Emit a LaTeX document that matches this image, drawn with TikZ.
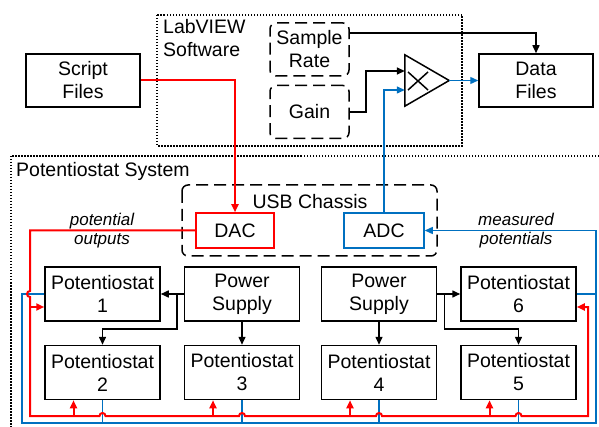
\documentclass[tikz,border=0pt]{standalone}
\usepackage{fontspec}
\setmainfont{Liberation Sans}
\usetikzlibrary{arrows.meta,positioning,calc}
\definecolor{dacred}{RGB}{255,0,0}
\definecolor{adcblue}{RGB}{0,112,192}

\begin{document}
\begin{tikzpicture}[x=1pt,y=-1pt,node distance=23pt,>={Triangle[length=8pt,width=7pt]},
  every node/.style={font=\fontsize{19.5}{23}\selectfont}]
\tikzstyle{box}=[draw, line width=1.5pt, align=center, minimum width=115pt, minimum height=54pt, inner sep=2pt]
\tikzstyle{setting}=[draw, line width=1.5pt, dash pattern=on 12pt off 6pt, rounded corners=6pt, align=center, minimum width=79pt, minimum height=53pt, inner sep=2pt]
\tikzstyle{conv}=[draw, line width=1.5pt, minimum width=78pt, minimum height=35pt]
\tikzstyle{frame}=[line width=1.5pt, dash pattern=on 1.5pt off 1.5pt]
\tikzstyle{wire}=[line width=1.5pt]
\tikzstyle{redwire}=[dacred, line width=2pt]
\tikzstyle{bluewire}=[adcblue, line width=1.3pt]
\tikzstyle{note}=[font=\fontsize{17}{19}\selectfont\itshape, align=center]

\path[use as bounding box, clip] (0,0) rectangle (599,427);

% LabVIEW software
\draw[frame] (157,15) rectangle (462,146);
\node[anchor=north west, align=left, inner sep=0pt] (lv) at (163,19) {LabVIEW\\Software};
\node[box, minimum width=114pt, minimum height=53pt] (script) at (83,80.5) {Script\\Files};
\node[setting] (rate) at (309.5,49.5) {Sample\\Rate};
\node[setting, below=8pt of rate] (gain) {Gain};
\node[minimum width=44pt, minimum height=51pt, inner sep=0pt] (mul) at (427,80.5) {};
\draw[wire] (mul.north west) -- (mul.east) -- (mul.south west) -- cycle;
\draw[wire] ([shift={(-19pt,8.5pt)}]mul.center) -- ([shift={(1pt,-9.5pt)}]mul.center);
\draw[wire] ([shift={(1pt,8.5pt)}]mul.center) -- ([shift={(-19pt,-9.5pt)}]mul.center);
\node[box, minimum width=114pt, minimum height=53pt] (data) at (536,80.5) {Data\\Files};

% potentiostat system
\draw[frame] (11,156) rectangle (640,460);
\node[anchor=west, inner sep=0pt] (sys) at (16,171) {Potentiostat System};
\draw[wire, dash pattern=on 12pt off 6pt, rounded corners=6pt] (182,185) rectangle (437,256);
\node (usb) at (310,202) {USB Chassis};
\node[conv, draw=dacred] (dac) at (235,230.5) {DAC};
\node[conv, draw=adcblue, minimum width=80pt] (adc) at (384,230.5) {ADC};

\node[box] (p1) at (102.5,294) {Potentiostat\\1};
\node[box, right=of p1] (sup1) {Power\\Supply};
\node[box, below=of p1] (p2) {Potentiostat\\2};
\node[box, below=of sup1] (p3) {Potentiostat\\3};
\node[box] (sup2) at (379,294) {Power\\Supply};
\node[box, right=of sup2] (p6) {Potentiostat\\6};
\node[box, below=of sup2] (p4) {Potentiostat\\4};
\node[box, below=of p6] (p5) {Potentiostat\\5};

\node[note] (outlbl) at (102,230.5) {potential\\outputs};
\node[note] (measlbl) at (516,230.5) {measured\\potentials};

% settings and samples
\draw[wire,->] ([yshift=16.5pt]rate.east) -| (data.north);
\draw[wire,->] (gain.east) -- ++(16,0) |- ([yshift=9.5pt]mul.west);
\draw[bluewire,->] (adc.north) |- ([yshift=-9.5pt]mul.west);
\draw[bluewire,->] (mul.east) -- (data.west);
\draw[redwire,->] (script.east) -| (dac.north);

% power
\draw[wire,->] (sup1.west) -- (p1.east);
\draw[wire,->] ([xshift=-7pt]sup1.west) -- ++(0,35) -| (p2.north);
\draw[wire,->] (sup1.south) -- (p3.north);
\draw[wire,->] (sup2.east) -- (p6.west);
\draw[wire,->] ([xshift=7pt]sup2.east) -- ++(0,35) -| (p5.north);
\draw[wire,->] (sup2.south) -- (p4.north);

% signal buses
\coordinate (redl) at (30,416);
\coordinate (redr) at (588,416);
\coordinate (bluel) at (22,423);
\coordinate (bluer) at (596,423);
\coordinate (in1) at ([yshift=-13pt]p1.west);
\coordinate (in6) at ([yshift=-13pt]p6.east);

\draw[bluewire,->] (p1.west) -| (bluel) -- (bluer) |- (adc.east);
\draw[bluewire] (p6.east) -- (p6.east -| bluer);
\foreach \p in {p2,p3,p4,p5}
  \draw[bluewire] (\p.south) -- (\p.south |- bluel);

\draw[redwire,->] (dac.west) -| ($(p1.west -| redl)+(0,-3)$) arc (90:270:3pt) -- (redl)
  -- ($(p2.south |- redl)+(-3,0)$) arc (180:0:3pt)
  -- ($(p3.south |- redl)+(-3,0)$) arc (180:0:3pt)
  -- ($(p4.south |- redl)+(-3,0)$) arc (180:0:3pt)
  -- ($(p5.south |- redl)+(-3,0)$) arc (180:0:3pt)
  -- (redr) |- (in6);
\draw[redwire,->] (in1 -| redl) -- (in1);
\foreach \p in {p2,p3,p4,p5} {
  \coordinate (up) at ([xshift=-29pt]\p.south);
  \draw[redwire,->] (up |- redl) -- (up);
}
\end{tikzpicture}
\end{document}
